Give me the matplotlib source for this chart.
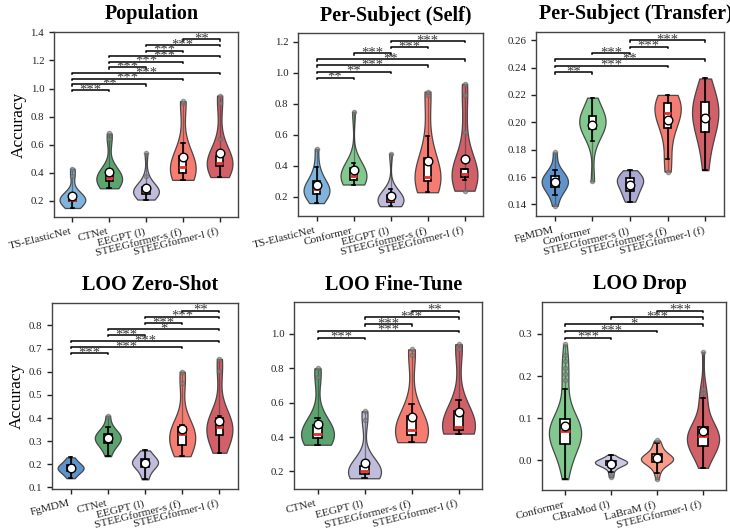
import matplotlib
matplotlib.use('Agg')
import matplotlib.pyplot as plt
from matplotlib.ticker import MultipleLocator
import numpy as np

plt.rcParams['font.family'] = ['Liberation Serif', 'DejaVu Serif']

# ---------------- data ----------------
pop_models = ["TS-ElasticNet", "CTNet", "EEGPT (l)", "STEEGformer-s (f)", "STEEGformer-l (f)"]
pop_values = [
    [0.15, 0.17, 0.19, 0.20, 0.20, 0.21, 0.21, 0.22, 0.23, 0.24, 0.25, 0.38, 0.43],
    [0.29, 0.31, 0.33, 0.34, 0.35, 0.36, 0.36, 0.37, 0.39, 0.40, 0.42, 0.64, 0.68],
    [0.21, 0.22, 0.24, 0.25, 0.26, 0.27, 0.27, 0.28, 0.29, 0.30, 0.31, 0.38, 0.54],
    [0.35, 0.36, 0.38, 0.40, 0.42, 0.43, 0.44, 0.46, 0.50, 0.52, 0.61, 0.90, 0.91],
    [0.37, 0.43, 0.44, 0.45, 0.46, 0.47, 0.47, 0.48, 0.50, 0.52, 0.64, 0.90, 0.95],
]
pop_pairs = [(0, 1), (0, 2), (0, 3), (0, 4), (1, 2), (1, 3), (1, 4), (2, 3), (2, 4), (3, 4)]
pop_stars = ["***", "**", "***", "***", "***", "***", "***", "***", "***", "**"]

self_models = ["TS-ElasticNet", "Conformer", "EEGPT (l)", "STEEGformer-s (f)", "STEEGformer-l (f)"]
self_values = [
    [0.16, 0.18, 0.21, 0.22, 0.23, 0.24, 0.25, 0.26, 0.28, 0.30, 0.33, 0.39, 0.51],
    [0.28, 0.29, 0.30, 0.31, 0.32, 0.33, 0.34, 0.36, 0.38, 0.40, 0.42, 0.75],
    [0.14, 0.15, 0.16, 0.17, 0.17, 0.18, 0.18, 0.19, 0.21, 0.22, 0.25, 0.48],
    [0.23, 0.26, 0.29, 0.30, 0.31, 0.32, 0.33, 0.36, 0.42, 0.45, 0.59, 0.86, 0.88],
    [0.24, 0.31, 0.32, 0.33, 0.34, 0.345, 0.35, 0.36, 0.37, 0.38, 0.62, 0.86, 0.93],
]
self_pairs = [(0, 1), (0, 2), (0, 3), (0, 4), (1, 2), (2, 3), (2, 4)]
self_stars = ["**", "**", "***", "**", "***", "***", "***"]

tr_models = ["FgMDM", "Conformer", "STEEGformer-s (l)", "STEEGformer-s (f)", "STEEGformer-l (f)"]
tr_values = [
    [0.139, 0.147, 0.151, 0.153, 0.155, 0.156, 0.157, 0.158, 0.160, 0.162, 0.165, 0.178],
    [0.157, 0.186, 0.193, 0.196, 0.198, 0.200, 0.200, 0.202, 0.204, 0.206, 0.212, 0.218],
    [0.142, 0.145, 0.149, 0.151, 0.154, 0.156, 0.157, 0.159, 0.160, 0.162, 0.165],
    [0.164, 0.173, 0.189, 0.198, 0.202, 0.206, 0.208, 0.210, 0.213, 0.216, 0.218, 0.220],
    [0.165, 0.180, 0.190, 0.194, 0.199, 0.204, 0.207, 0.211, 0.214, 0.217, 0.225, 0.232],
]
tr_pairs = [(0, 1), (0, 3), (0, 4), (1, 2), (2, 3), (2, 4)]
tr_stars = ["**", "***", "**", "***", "***", "***"]

zs_models = ["FgMDM", "CTNet", "EEGPT (l)", "STEEGformer-s (f)", "STEEGformer-l (f)"]
zs_values = [
    [0.14, 0.155, 0.165, 0.172, 0.178, 0.183, 0.187, 0.19, 0.195, 0.205, 0.215, 0.23],
    [0.235, 0.27, 0.285, 0.295, 0.305, 0.312, 0.318, 0.322, 0.33, 0.34, 0.36, 0.41],
    [0.135, 0.16, 0.18, 0.19, 0.198, 0.205, 0.21, 0.214, 0.22, 0.23, 0.245, 0.26],
    [0.235, 0.25, 0.27, 0.285, 0.30, 0.32, 0.33, 0.34, 0.35, 0.36, 0.37, 0.55, 0.60],
    [0.25, 0.28, 0.31, 0.325, 0.34, 0.355, 0.36, 0.37, 0.39, 0.40, 0.41, 0.605, 0.655],
]
zs_pairs = [(0, 1), (0, 3), (0, 4), (1, 2), (1, 4), (2, 3), (2, 4), (3, 4)]
zs_stars = ["***", "***", "***", "***", "*", "***", "***", "**"]

ft_models = ["CTNet", "EEGPT (l)", "STEEGformer-s (f)", "STEEGformer-l (f)"]
ft_values = [
    [0.355, 0.37, 0.385, 0.395, 0.405, 0.415, 0.42, 0.43, 0.45, 0.47, 0.51, 0.75, 0.80],
    [0.16, 0.17, 0.18, 0.185, 0.19, 0.195, 0.20, 0.21, 0.22, 0.23, 0.24, 0.50, 0.55],
    [0.37, 0.385, 0.40, 0.41, 0.42, 0.43, 0.44, 0.46, 0.48, 0.52, 0.59, 0.88, 0.91],
    [0.42, 0.425, 0.43, 0.44, 0.45, 0.455, 0.46, 0.48, 0.52, 0.55, 0.615, 0.91, 0.94],
]
ft_pairs = [(0, 1), (0, 3), (1, 2), (1, 3), (2, 3)]
ft_stars = ["***", "***", "***", "***", "**"]

dr_models = ["Conformer", "CBraMod (l)", "LaBraM (f)", "STEEGformer-l (f)"]
dr_values = [
    [-0.045, -0.035, -0.02, -0.01, 0.0, 0.01, 0.02, 0.025, 0.03, 0.035, 0.038,
     0.04, 0.043, 0.046, 0.049, 0.052, 0.055, 0.058, 0.061, 0.064, 0.067, 0.069, 0.071,
     0.073, 0.076, 0.079, 0.082, 0.085, 0.088, 0.091, 0.094, 0.096, 0.098, 0.10,
     0.11, 0.13, 0.15, 0.17, 0.19, 0.205, 0.22, 0.235, 0.25, 0.275],
    [-0.04, -0.035, -0.028, -0.022, -0.018, -0.015, -0.013, -0.012, -0.011, -0.01,
     -0.009, -0.008, -0.007, -0.006, -0.005, -0.005, -0.004, -0.003, -0.002, -0.002,
     -0.001, 0.0, 0.0, 0.002, 0.004, 0.007, 0.01, 0.013],
    [-0.045, -0.03, -0.022, -0.015, -0.01, -0.007, -0.005, -0.003, -0.001, 0.0, 0.001,
     0.002, 0.003, 0.004, 0.005, 0.006, 0.008, 0.01, 0.012, 0.015, 0.018, 0.022, 0.028,
     0.035, 0.04, 0.047],
    [-0.018, -0.005, 0.005, 0.015, 0.022, 0.028, 0.03, 0.033, 0.037, 0.04, 0.044, 0.048,
     0.052, 0.056, 0.058, 0.06, 0.063, 0.066, 0.07, 0.074, 0.078, 0.08, 0.09, 0.11, 0.13,
     0.147, 0.16, 0.17, 0.257],
]
dr_pairs = [(0, 1), (0, 2), (0, 3), (1, 3), (2, 3)]
dr_stars = ["***", "***", "*", "***", "***"]

titles = ["Population", "Per-Subject (Self)", "Per-Subject (Transfer)",
          "LOO Zero-Shot", "LOO Fine-Tune", "LOO Drop"]
ytick_steps = [0.2, 0.2, 0.02, 0.1, 0.2, 0.1]

# ---------------- style ----------------
model_colors = {
    "TS-ElasticNet": "#72acd9",
    "FgMDM": "#4d87c7",
    "CTNet": "#4a9a5f",
    "Conformer": "#76c283",
    "EEGPT (l)": "#b8b5d9",
    "STEEGformer-s (l)": "#a29fcf",
    "CBraMod (l)": "#c6c5e3",
    "LaBraM (f)": "#f8907c",
    "STEEGformer-s (f)": "#f46e62",
    "STEEGformer-l (f)": "#cc4f59",
}

W, H = 730, 529
fig = plt.figure(figsize=(W / 100, H / 100), dpi=100)


def axbox(l, r, t, b):
    return [l / W, 1 - b / H, (r - l) / W, (b - t) / H]


rects = [axbox(54, 238, 32, 217), axbox(298, 483, 33, 216), axbox(536, 724, 32, 216),
         axbox(52, 238, 303, 489), axbox(294, 482, 302, 489), axbox(542, 726, 302, 490)]

panels = [
    (pop_models, pop_values, pop_pairs, pop_stars),
    (self_models, self_values, self_pairs, self_stars),
    (tr_models, tr_values, tr_pairs, tr_stars),
    (zs_models, zs_values, zs_pairs, zs_stars),
    (ft_models, ft_values, ft_pairs, ft_stars),
    (dr_models, dr_values, dr_pairs, dr_stars),
]


def draw(ax, title, models, values, pairs, stars, ystep, ylabel=None):
    pos = np.arange(len(models))
    colors = [model_colors[m] for m in models]
    vp = ax.violinplot(values, positions=pos, widths=0.7, showextrema=False)
    for body, c in zip(vp['bodies'], colors):
        body.set_facecolor(c)
        body.set_edgecolor('#3a3a3a')
        body.set_alpha(0.9)
        body.set_linewidth(0.9)
        body.set_zorder(1)
    for p, v in zip(pos, values):
        ax.vlines(p, min(v), max(v), color='#333333', lw=0.9, alpha=0.55, zorder=2)
    ax.boxplot(values, positions=pos, widths=0.2, patch_artist=True, showmeans=True,
               manage_ticks=False, zorder=3,
               boxprops=dict(facecolor='white', edgecolor='black', linewidth=1.2),
               medianprops=dict(color='#e3302b', linewidth=2),
               whiskerprops=dict(color='black', linewidth=1.2),
               capprops=dict(color='black', linewidth=1.2),
               meanprops=dict(marker='o', markerfacecolor='white', markeredgecolor='black',
                              markersize=6.2, markeredgewidth=1),
               flierprops=dict(marker='o', markersize=3, markerfacecolor='#8a8a8a',
                               markeredgecolor='#666666', alpha=0.6))
    allv = np.concatenate([np.asarray(v) for v in values])
    lo, hi = allv.min(), allv.max()
    step = 0.05 * (hi - lo)
    for k, ((i, j), s) in enumerate(zip(pairs, stars)):
        y = hi + (k + 1) * step
        ax.plot([i, i, j, j], [y - 0.22 * step, y, y, y - 0.22 * step], color='black',
                lw=1.1, zorder=4)
        ax.text((i + j) / 2, y + 0.05 * step, s, ha='center', va='center', fontsize=10.5,
                color='#3a3a3a', zorder=5)
    top = hi + len(pairs) * step
    ax.set_ylim(lo - 1.6 * step, top + 1.3 * step)
    ax.set_xlim(-0.5, len(models) - 0.5)
    ax.yaxis.set_major_locator(MultipleLocator(ystep))
    ax.set_xticks(pos)
    ax.set_xticklabels(models, rotation=14, ha='right', fontsize=8.2)
    ax.tick_params(axis='y', labelsize=7.8, length=3.5, width=1, colors='#222222')
    ax.tick_params(axis='x', length=3.5, width=1, colors='#222222')
    for sp in ax.spines.values():
        sp.set_color('#444444')
        sp.set_linewidth(1.0)
    ax.set_title(title, fontsize=14.5, fontweight='bold', pad=9, x=0.53)
    if ylabel:
        ax.set_ylabel(ylabel, fontsize=12.5, labelpad=3)


for idx, (rect, title, pdata, ystep) in enumerate(zip(rects, titles, panels, ytick_steps)):
    ax = fig.add_axes(rect)
    models, values, pairs, stars = pdata
    draw(ax, title, models, values, pairs, stars, ystep,
         ylabel="Accuracy" if idx in (0, 3) else None)

fig.savefig("out.png", dpi=100)
